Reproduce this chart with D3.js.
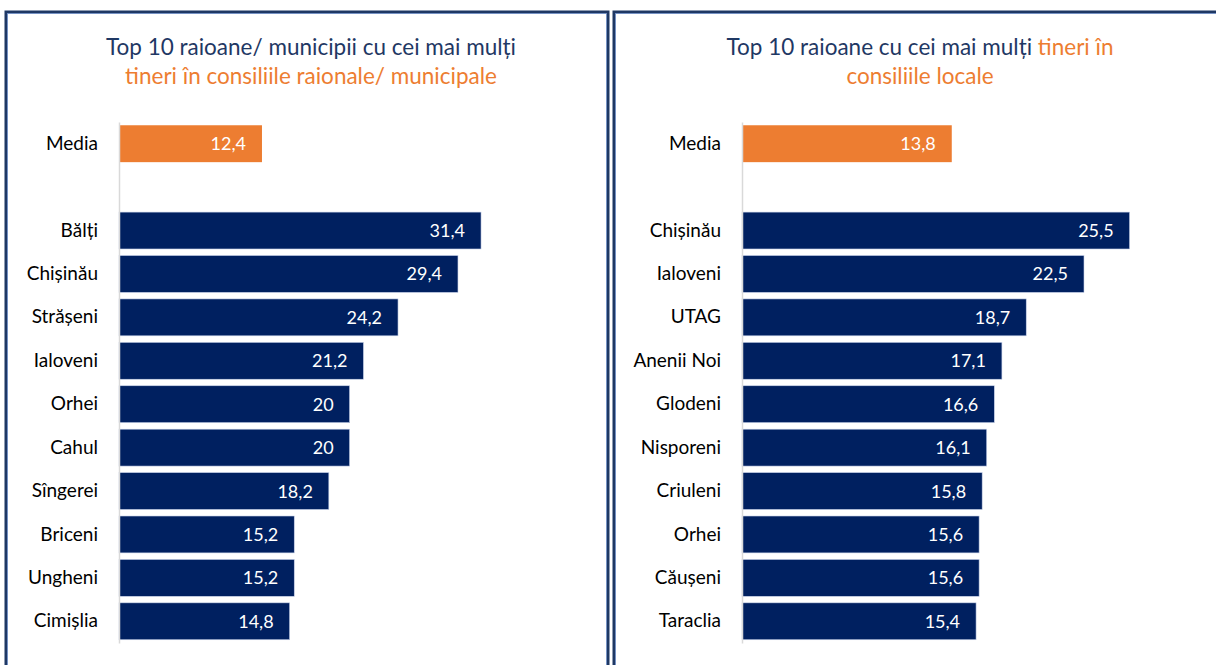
<!DOCTYPE html>
<meta charset="utf-8">
<style>
  body { margin: 0; background: #fff; }
  svg { display: block; }
  .lbl { font-family: Lato, "Open Sans", sans-serif; font-size: 19px; fill: #000; }
  .val { font-family: Lato, "Open Sans", sans-serif; font-size: 18px; fill: #fff; }
  .title { font-family: Lato, "Open Sans", sans-serif; font-size: 22.5px; }
</style>
<body>
<script src="https://cdn.jsdelivr.net/npm/d3@7"></script>
<script>
  // data
  var mediaLeft = 12.4;
  var namesLeft = ["Bălți", "Chișinău", "Strășeni", "Ialoveni", "Orhei", "Cahul", "Sîngerei", "Briceni", "Ungheni", "Cimișlia"];
  var valuesLeft = [31.4, 29.4, 24.2, 21.2, 20, 20, 18.2, 15.2, 15.2, 14.8];

  var mediaRight = 13.8;
  var namesRight = ["Chișinău", "Ialoveni", "UTAG", "Anenii Noi", "Glodeni", "Nisporeni", "Criuleni", "Orhei", "Căușeni", "Taraclia"];
  var valuesRight = [25.5, 22.5, 18.7, 17.1, 16.6, 16.1, 15.8, 15.6, 15.6, 15.4];

  var navy = "#002060", orange = "#ED7D31", titleNavy = "#1F3864";
  var fmt = function (v) { return String(v).replace(".", ","); };

  var svg = d3.select("body").append("svg")
    .attr("width", 1216)
    .attr("height", 665);

  // panel frames
  [[6, 12, 602], [614, 12, 640]].forEach(function (p) {
    svg.append("rect")
      .attr("x", p[0]).attr("y", p[1])
      .attr("width", p[2]).attr("height", 700)
      .attr("fill", "none")
      .attr("stroke", titleNavy)
      .attr("stroke-width", 3);
    svg.append("rect")
      .attr("x", p[0] + 1.5).attr("y", p[1] + 1.5)
      .attr("width", p[2] - 3).attr("height", 700)
      .attr("fill", "none")
      .attr("stroke", "#6f8fc8")
      .attr("stroke-width", 0.8);
  });

  function panel(opts) {
    var rows = [{ name: "Media", value: opts.media, media: true }, { name: "_gap", value: null }]
      .concat(opts.names.map(function (n, i) { return { name: n, value: opts.values[i] }; }));

    var x = d3.scaleLinear().domain([0, opts.max]).range([opts.left, opts.right]);
    var y = d3.scaleBand()
      .domain(rows.map(function (d) { return d.name; }))
      .range([122, 643])
      .paddingInner(0.15)
      .paddingOuter(0.075);

    var g = svg.append("g");

    // title
    var t = g.append("text")
      .attr("class", "title")
      .attr("text-anchor", "middle")
      .attr("x", opts.cx);
    opts.title.forEach(function (line, li) {
      line.forEach(function (part, pi) {
        var ts = t.append("tspan").attr("fill", part[1]).text(part[0]);
        if (pi == 0) ts.attr("x", opts.cx).attr("y", 55 + li * 29);
      });
    });

    var bars = rows.filter(function (d) { return d.value != null; });

    g.selectAll("rect.bar")
      .data(bars)
      .enter().append("rect")
      .attr("class", "bar")
      .attr("x", x(0))
      .attr("y", function (d) { return y(d.name); })
      .attr("width", function (d) { return x(d.value) - x(0); })
      .attr("height", y.bandwidth())
      .attr("fill", function (d) { return d.media ? orange : navy; })
      .attr("stroke", function (d) { return d.media ? "none" : "#c9d3ea"; })
      .attr("stroke-width", 0.6);

    // axis
    var ax = g.append("g")
      .attr("transform", "translate(" + x(0) + ",0)")
      .call(d3.axisLeft(y).tickSize(0).tickSizeOuter(0).tickPadding(21)
        .tickFormat(function (d) { return d == "_gap" ? "" : d; }));
    ax.select(".domain").attr("stroke", "#d9d9d9").attr("stroke-width", 1.5);
    ax.selectAll("text").attr("class", "lbl").attr("font-family", null).attr("font-size", null);
    ax.attr("font-family", null).attr("font-size", null);

    g.selectAll("text.val")
      .data(bars)
      .enter().append("text")
      .attr("class", "val")
      .attr("text-anchor", "end")
      .attr("x", function (d) { return x(d.value) - 16; })
      .attr("y", function (d) { return y(d.name) + y.bandwidth() / 2; })
      .attr("dy", "0.36em")
      .text(function (d) { return fmt(d.value); });
  }

  panel({
    media: mediaLeft, names: namesLeft, values: valuesLeft,
    max: 35, left: 119, right: 119 + 35 * 11.53, cx: 311,
    title: [[["Top 10 raioane/ municipii cu cei mai mulți", titleNavy]],
            [["tineri în consiliile raionale/ municipale", orange]]]
  });

  panel({
    media: mediaRight, names: namesRight, values: valuesRight,
    max: 30, left: 742, right: 742 + 30 * 15.2, cx: 920,
    title: [[["Top 10 raioane cu cei mai mulți ", titleNavy], ["tineri în", orange]],
            [["consiliile locale", orange]]]
  });
</script>
</body>
